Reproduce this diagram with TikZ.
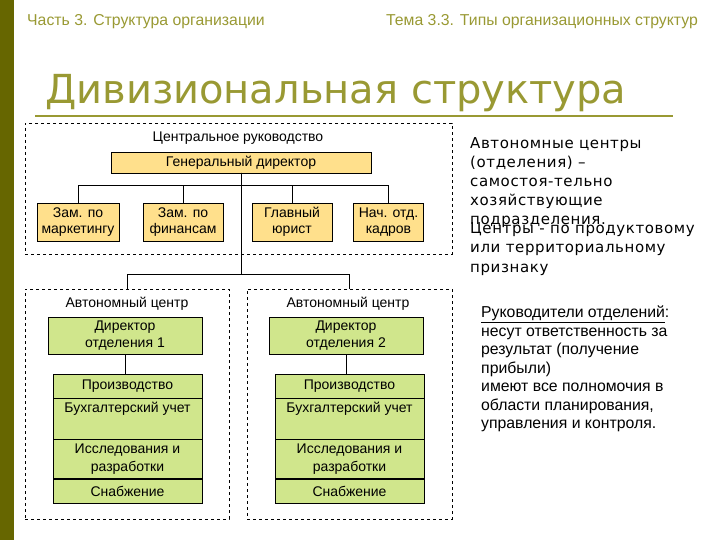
\documentclass[tikz,border=0pt]{standalone}
\usepackage{fontspec}
\setmainfont{Liberation Sans}
\newfontfamily\dejavu{DejaVu Sans}
\newfontfamily\dejavuwide[LetterSpace=4]{DejaVu Sans}
\usetikzlibrary{positioning}

\definecolor{barolive}{RGB}{102,102,0}
\definecolor{titleolive}{RGB}{153,153,51}
\definecolor{gdfill}{RGB}{255,224,140}
\definecolor{divfill}{RGB}{208,230,140}

\tikzset{
  topbox/.style={draw, fill=gdfill, outer sep=0pt, inner sep=1pt, align=center,
    font=\fontsize{14}{16.5}\selectfont},
  divbox/.style={draw, fill=divfill, outer sep=0pt, inner sep=1pt, align=center,
    font=\fontsize{14}{17.5}\selectfont},
  area/.style={draw, dashed, outer sep=0pt, inner sep=0pt},
  arealabel/.style={font=\fontsize{14}{16}\selectfont},
  link/.style={draw, thin},
  note/.style={anchor=north west, inner sep=0pt, align=left},
}

\begin{document}
\begin{tikzpicture}[x=1pt, y=-1pt]
    \useasboundingbox (0,0) rectangle (720,540);
    \fill[barolive] (0,0) rectangle (14,540);

    % header
    \node[anchor=west, inner sep=0pt, text=titleolive, font=\fontsize{15.8}{18}\selectfont] (part) at (27,22) {Часть 3. Структура организации};
    \node[anchor=east, inner sep=0pt, text=titleolive, font=\fontsize{15.8}{18}\selectfont] (theme) at (698,22) {Тема 3.3. Типы организационных структур};
    \node[anchor=base west, inner sep=0pt, text=titleolive, font=\dejavu\fontsize{40}{46}\selectfont] (title) at (45,104) {Дивизиональная структура};
    \draw[titleolive, line width=2.5pt] (35,116) -- (673,116);

    % central management
    \node[area, minimum width=427, minimum height=131] (central) at (238.5,188.5) {};
    \node[arealabel] (centrallbl) at (238,138) {Центральное руководство};
    \node[topbox, minimum width=260, minimum height=21] (gd) at (241,162.5) {Генеральный директор};

    \node[topbox, minimum width=82, minimum height=38] (m1) at (78,222) {Зам. по\\маркетингу};
    \node[topbox, minimum width=80, minimum height=38] (m2) at (183,222) {Зам. по\\финансам};
    \node[topbox, minimum width=80, minimum height=38] (m3) at (292,222) {Главный\\юрист};
    \node[topbox, minimum width=70, minimum height=38] (m4) at (388.5,222) {Нач. отд.\\кадров};

    \foreach \m in {m1,m2,m3,m4}
        \draw[link] (gd.south) -- ++(0,12) -| (\m.north);

    % autonomous centres
    \node[area, minimum width=204, minimum height=230] (auto1) at (127,404) {};
    \node[area, minimum width=205, minimum height=230] (auto2) at (349.5,404) {};
    \draw[link] (gd.south) -- ++(0,101) -| (auto1.north);
    \draw[link] (gd.south) -- ++(0,101) -| (auto2.north);

    \foreach \i/\x/\dx in {1/125/127.5, 2/346/349.5} {
        \node[arealabel] (lbl\i) at (\x+2,304) {Автономный центр};
        \node[divbox, minimum width=154, minimum height=37] (dir\i) at (\x,335.5) {Директор\\отделения \i};
        \node[divbox, minimum width=149, minimum height=24] (prod\i) at (\dx,386) {Производство};
        \node[divbox, minimum width=149, minimum height=41, below=0pt of prod\i] (acc\i) {Бухгалтерский учет\\\strut};
        \node[divbox, minimum width=149, minimum height=40, below=0pt of acc\i] (rnd\i) {Исследования и\\разработки};
        \node[divbox, minimum width=149, minimum height=24, below=0pt of rnd\i] (sup\i) {Снабжение};
        \draw[line width=1.6pt] (rnd\i.south west) -- (rnd\i.south east);
        \draw[link] (prod\i.north -| dir\i.south) -- (dir\i.south);
    }

    % notes on the right
    \node[note, font=\dejavuwide\fontsize{15}{19.2}\selectfont] (note1) at (470,137)
        {Автономные центры\\(отделения) –\\самостоя-тельно\\хозяйствующие\\подразделения.};
    \node[note, font=\dejavuwide\fontsize{15}{19.5}\selectfont] (note2) at (470,222)
        {Центры - по продуктовому\\или территориальному\\признаку};
    \node[note, font=\fontsize{15.8}{18.5}\selectfont] (note3) at (481,306)
        {\underline{Руководители отделений}:\\несут ответственность за\\результат (получение\\прибыли)\\имеют все полномочия в\\области планирования,\\управления и контроля.};
\end{tikzpicture}
\end{document}
